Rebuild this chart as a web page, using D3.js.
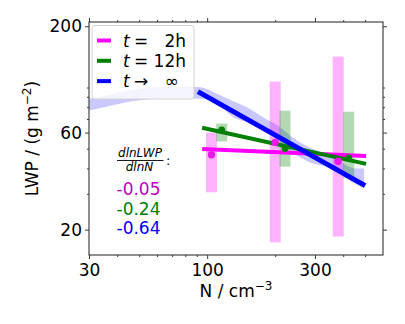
<!DOCTYPE html>
<html>
<head>
<meta charset="utf-8">
<script src="https://cdn.jsdelivr.net/npm/d3@7"></script>
<style>
  body { margin: 0; background: #fff; }
  text { font-family: "DejaVu Sans", sans-serif; }
</style>
</head>
<body>
<div id="chart"></div>
<script>
// ---- data ----
var xMajor = [30, 100, 300];
var xMinor = [40, 50, 60, 70, 80, 90, 200, 400, 500];
var yMajor = [20, 60, 200];
var yMinor = [30, 40, 50, 70, 80, 90, 100];

// t -> infinity envelope
var bandN  = [30, 35, 48, 65, 85, 95, 113, 129, 153, 182, 210, 238, 282, 356, 453, 495];
var bandLo = [77, 80, 86, 88, 88, 88, 82, 72, 67, 61, 54, 48, 43, 40, 33.5, 32];
var bandHi = [88, 91, 98, 101, 101, 100, 92, 86, 79, 70, 64, 57, 51, 46, 40, 40];

// t = 2h
var pinkN  = [104.5, 200, 380];
var pinkV  = [46.7, 53.7, 43.4];
var pinkLo = [30.5, 17.3, 18.5];
var pinkHi = [60, 107, 142];

// t = 12h
var greenN  = [116, 221, 423];
var greenV  = [61.8, 50.1, 45.1];
var greenLo = [54.3, 40.8, 36];
var greenHi = [66.5, 76.9, 76];

// fitted lines (end points)
var fitPinkN  = [95, 505],  fitPinkV  = [49.8, 46.0];
var fitGreenN = [95, 505],  fitGreenV = [63.4, 42.1];
var fitBlueN  = [91, 500],  fitBlueV  = [95.5, 32.9];

var legendSym    = ["=", "=", "\u2192"];
var legendSuffix = ["2h", "12h", "\u221E"];
var slopes = ["-0.05", "-0.24", "-0.64"];

// ---- layout ----
var svgWidth = 405;
var svgHeight = 324;
var margin = { top: 22, right: 22, bottom: 69, left: 89 };
var width = svgWidth - margin.left - margin.right;
var height = svgHeight - margin.top - margin.bottom;

var svg = d3.select("#chart")
  .append("svg")
  .attr("width", svgWidth)
  .attr("height", svgHeight);

var chartGroup = svg.append("g")
  .attr("transform", `translate(${margin.left}, ${margin.top})`);

var x = d3.scaleLog().domain([30, 600]).range([0, width]);
var y = d3.scaleLog().domain([15, 210]).range([height, 0]);

svg.append("clipPath").attr("id", "clip")
  .append("rect").attr("width", width).attr("height", height);

var plot = chartGroup.append("g").attr("clip-path", "url(#clip)");

// envelope band
var bandData = bandN.map(function(n, i) { return { n: n, lo: bandLo[i], hi: bandHi[i] }; });
plot.append("path")
  .datum(bandData)
  .attr("fill", "#0000ff")
  .attr("opacity", 0.21)
  .attr("d", d3.area()
    .curve(d3.curveMonotoneX)
    .x(function(d) { return x(d.n); })
    .y0(function(d) { return y(d.lo); })
    .y1(function(d) { return y(d.hi); }));

// spread bars
var barW = 11;
function drawBars(ns, lo, hi, color) {
  plot.selectAll(null)
    .data(ns)
    .enter()
    .append("rect")
    .attr("x", function(d) { return x(d) - barW / 2; })
    .attr("width", barW)
    .attr("y", function(d, i) { return y(hi[i]); })
    .attr("height", function(d, i) { return y(lo[i]) - y(hi[i]); })
    .attr("fill", color)
    .attr("opacity", 0.3);
}
drawBars(pinkN, pinkLo, pinkHi, "#ff00ff");
drawBars(greenN, greenLo, greenHi, "#008000");

// fit lines
function drawFit(ns, vs, color, w) {
  var pts = ns.map(function(n, i) { return [x(n), y(vs[i])]; });
  plot.append("path")
    .attr("d", d3.line()(pts))
    .attr("stroke", color)
    .attr("stroke-width", w)
    .attr("fill", "none");
}
drawFit(fitPinkN, fitPinkV, "#ff00ff", 4);
drawFit(fitGreenN, fitGreenV, "#008000", 4);
drawFit(fitBlueN, fitBlueV, "#0000ff", 5);

// dots
function drawDots(ns, vs, color, r) {
  plot.selectAll(null)
    .data(ns)
    .enter()
    .append("circle")
    .attr("cx", function(d) { return x(d); })
    .attr("cy", function(d, i) { return y(vs[i]); })
    .attr("r", r)
    .attr("fill", color);
}
drawDots(pinkN, pinkV, "#e81ae8", 3.7);
drawDots(greenN, greenV, "#008000", 3.4);

// ---- axes ----
function styleAxis(g) {
  g.select(".domain").remove();
  g.selectAll("line").attr("stroke", "#222").attr("stroke-width", 0.9);
  g.selectAll("text").attr("font-family", "DejaVu Sans").attr("font-size", 17).attr("fill", "#000");
}

chartGroup.append("g")
  .attr("transform", `translate(0, ${height})`)
  .call(d3.axisBottom(x).tickValues(xMajor).tickFormat(d3.format("d")).tickSize(4).tickPadding(5))
  .call(styleAxis);
chartGroup.append("g")
  .attr("transform", `translate(0, ${height})`)
  .call(d3.axisBottom(x).tickValues(xMinor).tickFormat("").tickSize(2))
  .call(styleAxis);
chartGroup.append("g")
  .call(d3.axisTop(x).tickValues(xMajor).tickFormat("").tickSize(4))
  .call(styleAxis);
chartGroup.append("g")
  .call(d3.axisTop(x).tickValues(xMinor).tickFormat("").tickSize(2))
  .call(styleAxis);

chartGroup.append("g")
  .call(d3.axisLeft(y).tickValues(yMajor).tickFormat(d3.format("d")).tickSize(4).tickPadding(3))
  .call(styleAxis);
chartGroup.append("g")
  .call(d3.axisLeft(y).tickValues(yMinor).tickFormat("").tickSize(2))
  .call(styleAxis);
chartGroup.append("g")
  .attr("transform", `translate(${width}, 0)`)
  .call(d3.axisRight(y).tickValues(yMajor).tickFormat("").tickSize(4))
  .call(styleAxis);
chartGroup.append("g")
  .attr("transform", `translate(${width}, 0)`)
  .call(d3.axisRight(y).tickValues(yMinor).tickFormat("").tickSize(2))
  .call(styleAxis);

chartGroup.append("rect")
  .attr("width", width)
  .attr("height", height)
  .attr("fill", "none")
  .attr("stroke", "#333")
  .attr("stroke-width", 1.1);

// axis labels
var yLabel = chartGroup.append("text")
  .attr("transform", "rotate(-90)")
  .attr("x", -height / 2)
  .attr("y", 38 - margin.left)
  .attr("text-anchor", "middle")
  .attr("font-size", 17);
yLabel.append("tspan").text("LWP / (g m");
yLabel.append("tspan").attr("font-size", 12).attr("dy", -7).text("\u22122");
yLabel.append("tspan").attr("dy", 7).text(")");

var xLabel = chartGroup.append("text")
  .attr("x", width / 2)
  .attr("y", height + 42)
  .attr("text-anchor", "middle")
  .attr("font-size", 17);
xLabel.append("tspan").text("N / cm");
xLabel.append("tspan").attr("font-size", 12).attr("dy", -7).text("\u22123");

// ---- legend ----
var legendColors = ["#ff00ff", "#008000", "#0000ff"];
var suffixX = [186, 186, 179];
var legend = svg.append("g");
legend.append("rect")
  .attr("x", 92).attr("y", 25.5)
  .attr("width", 102).attr("height", 73.5)
  .attr("rx", 3)
  .attr("fill", "#fff").attr("fill-opacity", 0.8)
  .attr("stroke", "#d4d4d4").attr("stroke-width", 1);

legendColors.forEach(function(c, i) {
  var yy = 40.5 + i * 20.3;
  legend.append("line")
    .attr("x1", 97).attr("x2", 111)
    .attr("y1", yy).attr("y2", yy)
    .attr("stroke", c).attr("stroke-width", 4);
  legend.append("text")
    .attr("x", 123).attr("y", yy + 6.3)
    .attr("font-size", 17).attr("font-style", "italic")
    .text("t");
  legend.append("text")
    .attr("x", 134).attr("y", yy + 6.3)
    .attr("font-size", 17)
    .text(legendSym[i]);
  legend.append("text")
    .attr("x", suffixX[i]).attr("y", yy + 6.3)
    .attr("font-size", 17).attr("text-anchor", "end")
    .text(legendSuffix[i]);
});

// ---- slope annotation ----
var ann = svg.append("g");
ann.append("text")
  .attr("x", 140).attr("y", 157)
  .attr("text-anchor", "middle")
  .attr("font-size", 12).attr("font-style", "italic")
  .text("dlnLWP");
ann.append("line")
  .attr("x1", 117).attr("x2", 163.5)
  .attr("y1", 160.5).attr("y2", 160.5)
  .attr("stroke", "#000").attr("stroke-width", 0.9);
ann.append("text")
  .attr("x", 139.5).attr("y", 170.5)
  .attr("text-anchor", "middle")
  .attr("font-size", 12).attr("font-style", "italic")
  .text("dlnN");
ann.append("text")
  .attr("x", 166).attr("y", 165)
  .attr("font-size", 13)
  .text(":");

var slopeColors = ["#c000c0", "#008000", "#0000ff"];
slopes.forEach(function(s, i) {
  ann.append("text")
    .attr("x", 116.5)
    .attr("y", 195 + i * 19.6)
    .attr("font-size", 17)
    .attr("fill", slopeColors[i])
    .text(s);
});
</script>
</body>
</html>
